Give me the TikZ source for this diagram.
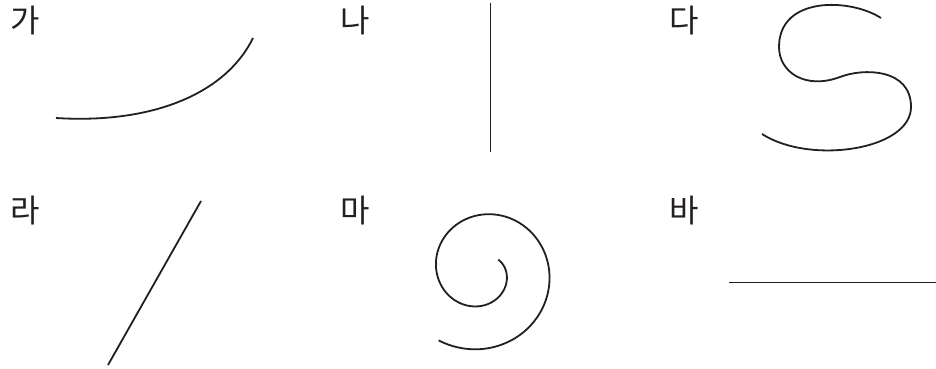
\documentclass[tikz,border=0pt]{standalone}
\usepackage{fontspec}
\newfontfamily\krfont{Noto Sans CJK KR}
\usetikzlibrary{calc}
\definecolor{ink}{HTML}{231F20}

\begin{document}
\begin{tikzpicture}[x=1pt,y=-1pt]
                \tikzset{lab/.style={font=\krfont\fontsize{32}{32}\selectfont, text=ink, inner sep=0pt},
                         curve/.style={draw=ink, line width=1.8pt}}
                \useasboundingbox (0,0) rectangle (936,369);
                % labels
                \node[lab] (ga) at (25,21) {가};
                \node[lab] (na) at (355,21) {나};
                \node[lab] (da) at (684,21) {다};
                \node[lab] (ra) at (25,211) {라};
                \node[lab] (ma) at (355,211) {마};
                \node[lab] (ba) at (684,211) {바};
                % end points
                \coordinate (A1) at (56,118);
                \coordinate (A2) at (253,38);
                \coordinate (B1) at (490.5,3);
                \coordinate (B2) at (490.5,152);
                \coordinate (C1) at (881,18);
                \coordinate (C2) at (762,134);
                \coordinate (D1) at (108,365);
                \coordinate (D2) at (201,201);
                \coordinate (E) at (482,271);
                \coordinate (F1) at (729,282.5);
                \coordinate (F2) at (936,282.5);
                % curves
                \draw[curve] (A1) .. controls (150,124) and (225,95) .. (A2);
                \draw[curve] (B1) -- (B2);
                \draw[curve] (C1) .. controls (850,-2) and (779,-4) .. (779,47)
                    .. controls (779,72) and (805,90) .. (840,77)
                    .. controls (863,68) and (911,68) .. (911,107)
                    .. controls (911,150) and (810,165) .. (C2);
                \draw[curve] (D1) -- (D2);
                \draw[curve, shift={(E)}] plot[domain=-35:482, samples=140, smooth] (\x:{24+0.12*\x});
                \draw[curve] (F1) -- (F2);
            \end{tikzpicture}
\end{document}
